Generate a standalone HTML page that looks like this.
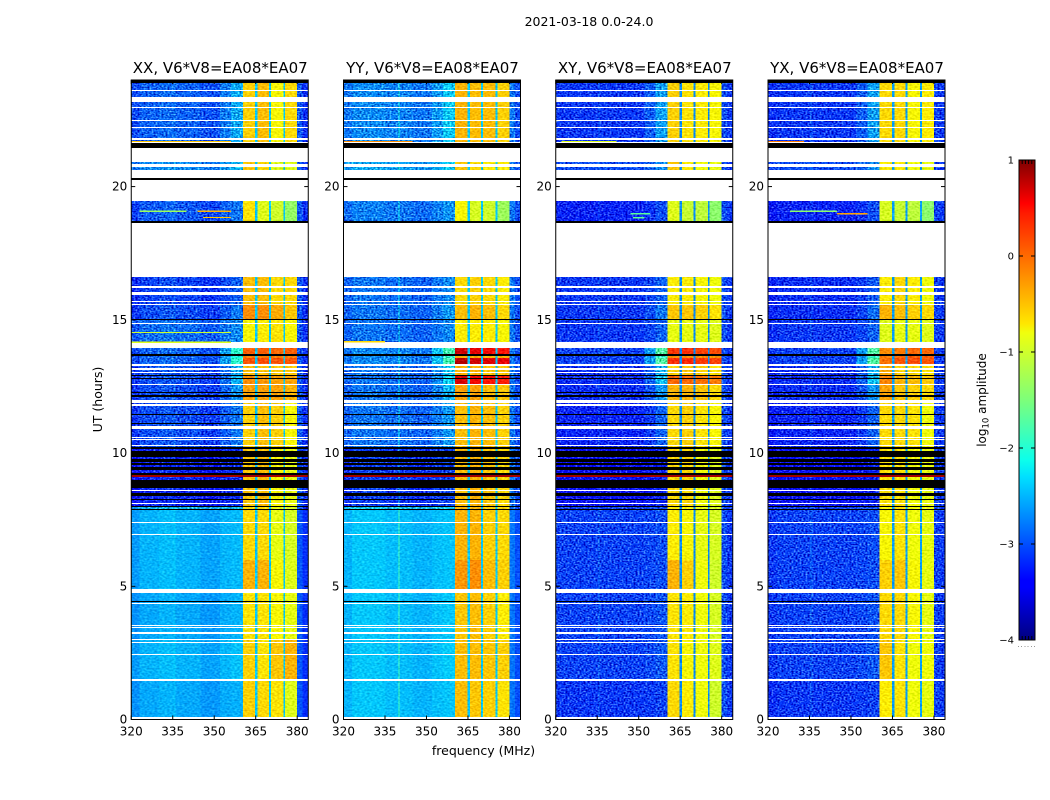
<!DOCTYPE html>
<html lang="en">
<head>
<meta charset="utf-8">
<title>2021-03-18 0.0-24.0</title>
<style>
html,body{margin:0;padding:0;background:#fff;width:1050px;height:800px;overflow:hidden}
svg{display:block}
text{font-family:"DejaVu Sans","Liberation Sans",sans-serif;fill:#000}
</style>
</head>
<body>
<svg id="figure" xmlns="http://www.w3.org/2000/svg" width="1050" height="800" viewBox="0 0 1050 800">
  <defs>
    <linearGradient id="jet-gradient" x1="0" y1="1" x2="0" y2="0">
      <stop offset="0" stop-color="#00007f"/>
      <stop offset="0.11" stop-color="#0000ff"/>
      <stop offset="0.125" stop-color="#0000ff"/>
      <stop offset="0.34" stop-color="#00e0ff"/>
      <stop offset="0.375" stop-color="#0cffeb"/>
      <stop offset="0.5" stop-color="#7dff7a"/>
      <stop offset="0.64" stop-color="#f0ff0d"/>
      <stop offset="0.66" stop-color="#ffe600"/>
      <stop offset="0.89" stop-color="#ff1a00"/>
      <stop offset="0.91" stop-color="#ff0000"/>
      <stop offset="1" stop-color="#7f0000"/>
    </linearGradient>
    <filter id="grain-strong" filterUnits="userSpaceOnUse" x="0" y="0" width="1050" height="800" color-interpolation-filters="sRGB">
      <feTurbulence type="fractalNoise" baseFrequency="0.5 0.7" numOctaves="1" seed="3" result="n"/>
      <feColorMatrix in="n" type="matrix" values="1 0 0 0 0 1 0 0 0 0 1 0 0 0 0 0 0 0 0 1" result="g"/>
      <feComposite in="SourceGraphic" in2="g" operator="arithmetic" k1="0" k2="1" k3="1.3" k4="-0.65" result="c"/>
      <feComposite in="c" in2="SourceAlpha" operator="in"/>
    </filter>
    <filter id="grain-light" filterUnits="userSpaceOnUse" x="0" y="0" width="1050" height="800" color-interpolation-filters="sRGB">
      <feTurbulence type="fractalNoise" baseFrequency="0.4 0.6" numOctaves="1" seed="7" result="n"/>
      <feColorMatrix in="n" type="matrix" values="1 0 0 0 0 1 0 0 0 0 1 0 0 0 0 0 0 0 0 1" result="g"/>
      <feComposite in="SourceGraphic" in2="g" operator="arithmetic" k1="0" k2="1" k3="0.45" k4="-0.225" result="c"/>
      <feComposite in="c" in2="SourceAlpha" operator="in"/>
    </filter>
  </defs>
  <text x="589" y="26" font-size="12.5" text-anchor="middle">2021-03-18 0.0-24.0</text>
  <g id="panels"></g>
  <text x="483.5" y="755" font-size="12.5" text-anchor="middle">frequency (MHz)</text>
  <text x="102" y="399.5" font-size="12.5" text-anchor="middle" transform="rotate(-90 102 399.5)">UT (hours)</text>
  <g id="colorbar"></g>
  <text x="986" y="400" font-size="12" text-anchor="middle" transform="rotate(-90 986 400)">log<tspan font-size="8.5" dy="2.5">10</tspan><tspan dy="-2.5"> amplitude</tspan></text>
</svg>
<script>
// Panel titles
const panelTitles = ["XX, V6*V8=EA08*EA07", "YY, V6*V8=EA08*EA07", "XY, V6*V8=EA08*EA07", "YX, V6*V8=EA08*EA07"];

// Axis ticks
const freqTicks = [320, 335, 350, 365, 380];
const utTicks = [0, 5, 10, 15, 20];
const colorTicks = [1, 0, -1, -2, -3, -4];

// Time segments: [start UT at top of segment, state]; k = black, w = no data, d = data, r = red
const timeSegments = [
[24,'k'],[23.89,'d'],[23.63,'w'],[23.57,'d'],[23.38,'w'],[23.19,'d'],[22.99,'w'],[22.95,'d'],[22.5,'w'],[22.46,'d'],
[22.24,'w'],[22.2,'d'],[21.82,'w'],[21.75,'d'],[21.67,'w'],[21.64,'k'],[21.45,'w'],[20.94,'d'],[20.85,'w'],[20.75,'d'],
[20.62,'w'],[20.34,'k'],[20.25,'w'],[19.46,'d'],[18.71,'k'],[18.65,'w'],[16.62,'d'],[16.27,'w'],[16.19,'d'],[16.05,'w'],
[15.93,'d'],[15.72,'w'],[15.68,'d'],[15.6,'w'],[15.56,'d'],[15.02,'k'],[14.98,'d'],[14.89,'w'],[14.85,'d'],[14.18,'w'],
[13.94,'d'],[13.7,'k'],[13.66,'d'],[13.55,'d'],[13.33,'w'],[13.28,'d'],[13.19,'w'],[13.12,'d'],[13.05,'w'],[12.99,'d'],[12.93,'k'],
[12.89,'d'],[12.8,'k'],[12.76,'d'],[12.6,'d'],[12.59,'w'],[12.55,'d'],[12.3,'k'],[12.24,'d'],[12.18,'k'],[12.1,'d'],[11.99,'w'],
[11.89,'d'],[11.83,'w'],[11.78,'d'],[11.46,'k'],[11.42,'d'],[11.14,'k'],[11.09,'d'],[11.03,'w'],[10.9,'d'],[10.61,'w'],
[10.57,'d'],[10.53,'w'],[10.48,'d'],[10.3,'w'],[10.26,'d'],[10.21,'k'],[10.17,'d'],[10.09,'k'],[9.86,'d'],[9.76,'k'],
[9.67,'d'],[9.63,'k'],[9.55,'d'],[9.49,'k'],[9.37,'d'],[9.25,'k'],[9.16,'r'],[9.09,'d'],[8.99,'k'],[8.69,'d'],
[8.61,'w'],[8.57,'d'],[8.49,'k'],[8.39,'d'],[8.29,'k'],[8.24,'d'],[8.12,'w'],[8.08,'d'],[8.01,'k'],[7.96,'d'],
[7.91,'k'],[7.86,'d'],[7.42,'w'],[7.38,'d'],[6.98,'w'],[6.94,'d'],[6,'d'],[4.88,'w'],[4.74,'d'],[4.44,'k'],[4.4,'d'],
[4.37,'w'],[4.33,'d'],[3.54,'w'],[3.5,'d'],[3.46,'w'],[3.42,'d'],[3.3,'w'],[3.2,'d'],[3.02,'w'],[2.98,'d'],
[2.91,'w'],[2.87,'d'],[2.46,'w'],[2.42,'d'],[1.51,'w'],[1.45,'d'],[0.08,'w']
];

// Observing epochs: UT at the top of each epoch
const epochTopUT = [24, 21.5, 20, 16.7, 15.6, 15.0, 14.1, 13.7, 13.55, 13.3, 12.93, 12.6, 12, 10.2, 7.95, 6, 4.9, 3, 1.5];

// Mean log10 amplitude below 356 MHz, by epoch
const lowXX = [-2.9,-2.7,-2.95,-3.05,-3.0,-2.85,-2.9,-2.9,-2.9,-3.0,-3.0,-3.0,-3.0,-3.2,-2.5,-2.5,-2.55,-2.5,-2.55];
const lowYY = [-2.75,-2.6,-2.8,-2.85,-2.85,-2.85,-2.75,-2.75,-2.75,-2.85,-2.85,-2.85,-2.85,-3.1,-2.45,-2.45,-2.45,-2.45,-2.45];
const lowXY = [-3.1,-3.0,-3.2,-3.1,-3.1,-3.1,-3.05,-3.05,-3.05,-3.15,-3.15,-3.15,-3.2,-3.3,-3.05,-3.05,-3.05,-3.05,-3.1];
const lowYX = [-3.1,-3.0,-3.2,-3.15,-3.15,-3.1,-3.05,-3.05,-3.05,-3.15,-3.15,-3.15,-3.2,-3.3,-3.05,-3.05,-3.05,-3.05,-3.1];

// Rise of amplitude just below the strong band, by epoch, and its strength per polarisation
const rampLift = [.5,.3,.2,.2,.3,.2,1.3,1.1,1.3,.6,.7,.5,.3,.1,.05,.05,.08,.1,.05];
const rampScale = [.7,.7,1,1];

// Log10 amplitude of the four strong sub-bands, by epoch
const highXX = [[-.55,-.45,-.75,-.6],[-.5,-.6,-.9,-.9],[-.65,-.9,-1,-1.35],[-.45,-.45,-.6,-.6],[-.2,-.2,-.35,-.5],[-.75,-.7,-.65,-.75],[.05,.05,0,.05],[-.1,-.1,-.1,-.1],[.1,.15,.1,.1],[-.45,-.45,-.5,-.5],[-.2,-.25,-.3,-.3],[-.3,-.3,-.3,-.4],[-.55,-.45,-.55,-.75],[-.5,-.45,-.75,-.85],[-.6,-.6,-.85,-.95],[-.4,-.4,-.75,-.9],[-.65,-.65,-.75,-.85],[-.55,-.65,-.5,-.4],[-.55,-.6,-.65,-.9]];
const highYY = [[-.4,-.45,-.45,-.55],[-.5,-.6,-.7,-.7],[-.75,-.95,-1,-1.3],[-.6,-.55,-.6,-.7],[-.45,-.4,-.45,-.6],[-.7,-.7,-.7,-.75],[.65,.55,.5,.45],[-.35,-.35,-.4,-.4],[.75,.65,.6,.55],[-.4,-.4,-.5,-.5],[.6,.5,.45,.4],[-.3,-.3,-.45,-.5],[-.45,-.4,-.45,-.55],[-.45,-.4,-.5,-.6],[-.4,-.4,-.55,-.6],[-.25,-.2,-.45,-.55],[-.5,-.45,-.55,-.7],[-.45,-.45,-.5,-.55],[-.45,-.5,-.55,-.65]];
const highXY = [[-.55,-.65,-.7,-.75],[-.5,-.7,-.8,-.85],[-.9,-1.05,-1.1,-1.4],[-.7,-.7,-.75,-.8],[-.5,-.5,-.55,-.65],[-.85,-.85,-.85,-.9],[.25,.3,.2,.15],[-.2,-.2,-.2,-.25],[.3,.35,.25,.2],[-.55,-.5,-.55,-.65],[0,0,-.05,-.1],[-.4,-.4,-.5,-.6],[-.6,-.55,-.65,-.75],[-.6,-.6,-.8,-.9],[-.7,-.75,-.85,-.95],[-.4,-.55,-.8,-1],[-.65,-.7,-.8,-.95],[-.65,-.75,-.8,-.9],[-.6,-.7,-.8,-1]];
const highYX = [[-.6,-.6,-.75,-.7],[-.7,-.7,-.8,-.85],[-.95,-1.05,-1.1,-1.4],[-.7,-.6,-.7,-.8],[-.4,-.45,-.55,-.6],[-.9,-.85,-.85,-.9],[-.2,-.1,0,0],[-.1,0,.05,.05],[-.05,.1,.15,.1],[-.35,-.55,-.6,-.65],[-.15,-.4,-.45,-.5],[-.3,-.5,-.55,-.6],[-.6,-.6,-.65,-.8],[-.65,-.65,-.8,-.85],[-.75,-.65,-.8,-.85],[-.55,-.5,-.75,-.85],[-.6,-.6,-.75,-.85],[-.5,-.65,-.8,-.8],[-.7,-.65,-.8,-.85]];

// Per-polarisation levels in the dips between sub-bands, and above 380 MHz
const gapLevels = [-2.4, -2.4, -2.7, -2.6];
const upperLevels = [[-2.95,-3.15],[-2.8,-3.0],[-3.0,-3.1],[-3.05,-3.1]];

// Frequency channels (MHz) with their kind
const channelEdges = [320,323,330,335.2,336,339.8,340.2,345,352,356,360.4,364.8,365.7,369.8,370.5,375,375.6,380,382,384];
const channelKinds = ['l','l','l','l','l','l','l','l','q','p','h','g','h','g','h','g','h','u','u'];
const channelIndex = [0,1,2,3,4,5,6,7,0,0,0,0,1,1,2,2,3,0,1];

// Low-band channel offsets from the epoch mean, per polarisation
const lowOffsetsXX = [-.12,0,.05,.1,0,0,0,-.08];
const lowOffsetsYY = [-.05,.05,.05,0,0,.6,0,-.05];
const lowOffsetsXY = [0,0,0,.1,0,0,0,0];
const lowOffsetsYX = [-.05,0,0,.1,0,0,0,0];

// Narrow interference lines
const linePanels = [0,0,0,0,0,0,1,1,2,2,3,3,3,2];
const lineUT = [19.1,19.1,18.86,14.55,14.18,21.72,14.2,21.72,21.72,19.0,21.72,19.1,19.0,18.85];
const lineStart = [323,344,346,320,320,320,320,320,322,347,320,328,345,348];
const lineEnd = [340,356,356,356,356,356,335,345,342,354,333,345,356,352];
const lineValue = [-1.3,-.4,-.5,-1.0,-.9,-.5,-.6,-.2,-.9,-1.7,-.1,-1.4,-.3,-1.7];

const SVG_NS = "http://www.w3.org/2000/svg";
const panelLows = [lowXX, lowYY, lowXY, lowYX];
const panelHighs = [highXX, highYY, highXY, highYX];
const panelOffsets = [lowOffsetsXX, lowOffsetsYY, lowOffsetsXY, lowOffsetsYX];
const plotTop = 80, plotBottom = 719.5, plotWidth = 177;
const utMax = 24, freqMin = 320, freqMax = 384;

function panelLeft(p) { return 131.25 + 212.25 * p; }
function xScale(p, f) { return panelLeft(p) + (f - freqMin) / (freqMax - freqMin) * plotWidth; }
function yScale(u) { return plotBottom - u / utMax * (plotBottom - plotTop); }

function interp(t, pts) {
  for (let i = 1; i < pts.length; i++) {
    if (t <= pts[i][0]) {
      const a = pts[i - 1], b = pts[i];
      return a[1] + (b[1] - a[1]) * (t - a[0]) / (b[0] - a[0]);
    }
  }
  return pts[pts.length - 1][1];
}
function jet(v) {
  const t = Math.max(0, Math.min(1, (v + 4) / 5));
  const r = interp(t, [[0,0],[.35,0],[.66,1],[.89,1],[1,.5]]);
  const g = interp(t, [[0,0],[.125,0],[.375,1],[.64,1],[.91,0],[1,0]]);
  const b = interp(t, [[0,.5],[.11,1],[.34,1],[.65,0],[1,0]]);
  return "rgb(" + Math.round(r * 255) + "," + Math.round(g * 255) + "," + Math.round(b * 255) + ")";
}
function epochOf(u) {
  let e = 0;
  for (let i = 0; i < epochTopUT.length; i++) { if (u <= epochTopUT[i]) e = i; }
  return e;
}
function channelLevel(p, c, e) {
  const kind = channelKinds[c], i = channelIndex[c], low = panelLows[p][e];
  if (kind === 'l') return low + panelOffsets[p][i];
  if (kind === 'q') return low + .35 * rampLift[e] * rampScale[p];
  if (kind === 'p') return low + rampLift[e] * rampScale[p];
  if (kind === 'h') return panelHighs[p][e][i];
  if (kind === 'g') return gapLevels[p];
  return upperLevels[p][i];
}
function addRect(parent, x, y, w, h, fill, name) {
  const el = document.createElementNS(SVG_NS, "rect");
  el.setAttribute('x', x);
  el.setAttribute('y', y);
  el.setAttribute('width', w);
  el.setAttribute('height', h);
  el.setAttribute('fill', fill);
  el.setAttribute('shape-rendering', 'crispEdges');
  
  
  parent.appendChild(el);
  return el;
}
function addLine(parent, x1, y1, x2, y2, name) {
  const el = document.createElementNS(SVG_NS, "line");
  el.setAttribute('x1', x1);
  el.setAttribute('y1', y1);
  el.setAttribute('x2', x2);
  el.setAttribute('y2', y2);
  el.setAttribute('stroke', '#000');
  el.setAttribute('stroke-width', '1');
  
  
  parent.appendChild(el);
}
function addText(parent, x, y, str, size, anchor, name) {
  const el = document.createElementNS(SVG_NS, "text");
  el.setAttribute('x', x);
  el.setAttribute('y', y);
  el.setAttribute('font-size', size);
  el.setAttribute('text-anchor', anchor);
  
  
  el.textContent = str;
  parent.appendChild(el);
}
function addCellGroup(parent, filterId, name) {
  const el = document.createElementNS(SVG_NS, "g");
  if (filterId) el.setAttribute('filter', 'url(#' + filterId + ')');
  
  
  parent.appendChild(el);
  return el;
}

const panelsGroup = document.getElementById('panels');
panelTitles.forEach(function (title, p) {
  const g = document.createElementNS(SVG_NS, "g");
  
  
  panelsGroup.appendChild(g);

  const strongCells = addCellGroup(g, 'grain-strong', 'speckled-cells');
  const lightCells = addCellGroup(g, 'grain-light', 'smooth-cells');
  const flagRows = addCellGroup(g, null, 'flagged-rows');

  timeSegments.forEach(function (seg, s) {
    const top = seg[0];
    const bottom = s + 1 < timeSegments.length ? timeSegments[s + 1][0] : 0;
    const y = Math.round(yScale(top)), h = Math.round(yScale(bottom)) - y;
    if (seg[1] === 'w' || h <= 0) return;
    if (seg[1] === 'k') { addRect(flagRows, xScale(p, freqMin), y, plotWidth, h, '#000', 'flagged-row'); return; }
    if (seg[1] === 'r') { addRect(flagRows, xScale(p, freqMin), y, plotWidth, h, jet(.85), 'saturated-row'); return; }
    const mid = (top + bottom) / 2;
    const e = epochOf(mid);
    for (let c = 0; c < channelKinds.length; c++) {
      const x0 = xScale(p, channelEdges[c]), x1 = xScale(p, channelEdges[c + 1]);
      const kind = channelKinds[c];
      const speckled = (kind === 'l' || kind === 'q' || kind === 'p' || kind === 'u') && (p >= 2 || mid > 7.9);
      addRect(speckled ? strongCells : lightCells, x0, y, x1 - x0, h, jet(channelLevel(p, c, e)), 'heatmap-cell');
    }
  });

  linePanels.forEach(function (lp, i) {
    if (lp !== p) return;
    addRect(g, xScale(p, lineStart[i]), yScale(lineUT[i]), xScale(p, lineEnd[i]) - xScale(p, lineStart[i]), 1.2, jet(lineValue[i]), 'interference-line');
  });

  const L = panelLeft(p), R = L + plotWidth;
  freqTicks.forEach(function (f) {
    const x = xScale(p, f);
    addLine(g, x, plotBottom, x, plotBottom - 4, 'x-tick');
    addLine(g, x, plotTop, x, plotTop + 4, 'x-tick-top');
    addText(g, x, plotBottom + 16, String(f), 12, 'middle', 'x-tick-label');
  });
  utTicks.forEach(function (u) {
    const y = yScale(u);
    addLine(g, L, y, L + 4, y, 'y-tick');
    addLine(g, R, y, R - 4, y, 'y-tick-right');
    addText(g, L - 4, y + 4, String(u), 12, 'end', 'y-tick-label');
  });

  const frame = document.createElementNS(SVG_NS, "rect");
  frame.setAttribute('x', L);
  frame.setAttribute('y', plotTop);
  frame.setAttribute('width', plotWidth);
  frame.setAttribute('height', plotBottom - plotTop);
  frame.setAttribute('fill', 'none');
  frame.setAttribute('stroke', '#000');
  
  
  g.appendChild(frame);

  addText(g, L + plotWidth / 2 + 0.5, plotTop - 7, title, 15, 'middle', 'panel-title');
});

// Colorbar
const cbar = document.getElementById('colorbar');
const cbLeft = 1019, cbRight = 1035, cbTop = 160, cbBottom = 640;
function cbY(v) { return cbBottom - (v + 4) / 5 * (cbBottom - cbTop); }
addRect(cbar, cbLeft, cbTop, cbRight - cbLeft, cbBottom - cbTop, 'url(#jet-gradient)', 'colorbar-gradient');
colorTicks.forEach(function (v) {
  const y = cbY(v);
  addLine(cbar, cbLeft, y, cbLeft + 4, y, 'colorbar-tick');
  addLine(cbar, cbRight, y, cbRight - 4, y, 'colorbar-tick-right');
  addText(cbar, cbLeft - 5, y + 3.5, (v < 0 ? "\u2212" + (-v) : String(v)), 10, 'end', 'colorbar-tick-label');
});
[0.2, 0.4, 0.6, 0.8].forEach(function (frac) {
  const x = cbLeft + frac * (cbRight - cbLeft);
  addLine(cbar, x, cbTop, x, cbTop + 4, 'colorbar-minor-tick');
  addLine(cbar, x, cbBottom, x, cbBottom - 4, 'colorbar-minor-tick');
});
const cbFrame = document.createElementNS(SVG_NS, "rect");
cbFrame.setAttribute('x', cbLeft);
cbFrame.setAttribute('y', cbTop);
cbFrame.setAttribute('width', cbRight - cbLeft);
cbFrame.setAttribute('height', cbBottom - cbTop);
cbFrame.setAttribute('fill', 'none');
cbFrame.setAttribute('stroke', '#000');


cbar.appendChild(cbFrame);
[0, 0.2, 0.4, 0.6, 0.8, 1].forEach(function (frac) {
  addRect(cbar, cbLeft - 1 + frac * (cbRight - cbLeft), cbBottom + 6, 1, 1, '#999', 'colorbar-minor-label');
});
</script>
</body>
</html>
